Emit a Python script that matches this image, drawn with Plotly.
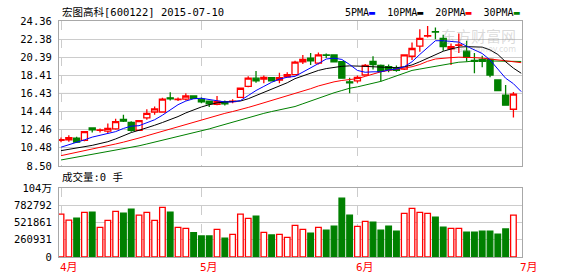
import plotly.graph_objects as go

title_text = "宏图高科[600122] 2015-07-10"
vol_title = "成交量:0 手"
ma_names = ["5PMA", "10PMA", "20PMA", "30PMA"]
ma_colors = ["#0000ff", "#000000", "#ff0000", "#008000"]

month_labels = ["4月", "5月", "6月", "7月"]
month_index = [0, 18, 38, 59]

price_ticks = [8.50, 10.48, 12.46, 14.44, 16.43, 18.41, 20.39, 22.38, 24.36]
vol_ticks = [0, 260931, 521861, 782792, 1043723]
vol_ticktext = ["0", "260931", "521861", "782792", "104万"]

open_ = [11.30, 11.35, 11.55, 11.30, 12.65, 12.40, 12.30, 12.55, 13.60, 13.25,
         12.40, 13.75, 14.40, 14.40, 15.95, 15.75, 15.80, 16.15, 15.80, 15.60,
         15.25, 15.50, 15.55, 16.00, 17.20, 18.10, 18.00, 18.15, 17.90, 18.25,
         18.50, 19.90, 20.30, 19.75, 20.65, 20.65, 19.90, 17.70, 17.80, 18.45,
         19.95, 19.50, 19.35, 19.20, 19.10, 20.50, 21.60, 22.70, 23.20, 22.45,
         21.30, 21.70, 21.05, 20.05, 20.15, 20.15, 17.90, 16.25, 14.70]
high = [11.60, 11.85, 11.70, 12.30, 12.70, 12.60, 13.15, 13.65, 14.10, 13.40,
        13.50, 14.70, 15.00, 15.95, 16.55, 16.00, 16.45, 16.20, 16.00, 15.65,
        16.15, 15.65, 15.80, 17.05, 18.30, 18.90, 18.40, 18.20, 18.70, 18.75,
        20.00, 20.65, 20.85, 20.90, 20.80, 20.70, 19.95, 18.15, 18.40, 19.65,
        20.50, 19.60, 19.60, 19.50, 20.70, 22.00, 23.45, 23.80, 23.65, 22.85,
        21.90, 23.00, 22.20, 20.85, 20.55, 20.20, 17.95, 17.35, 16.60]
low = [11.10, 11.15, 11.00, 11.20, 12.15, 12.15, 12.10, 12.45, 13.30, 12.25,
       12.35, 13.55, 14.10, 14.35, 15.65, 15.60, 15.65, 15.85, 15.35, 14.95,
       15.15, 15.10, 15.35, 15.95, 17.10, 17.60, 17.55, 17.75, 17.55, 18.20,
       18.45, 19.65, 19.55, 19.60, 20.30, 19.85, 18.05, 16.45, 17.60, 18.40,
       19.05, 17.75, 18.75, 18.80, 19.00, 20.10, 21.00, 22.55, 22.35, 21.10,
       19.55, 20.85, 19.90, 18.65, 19.30, 18.20, 16.70, 15.10, 13.80]
close = [11.38, 11.60, 11.10, 12.25, 12.45, 12.45, 12.60, 13.35, 13.40, 12.40,
         13.45, 14.25, 14.75, 15.80, 15.85, 15.80, 16.15, 15.90, 15.50, 15.30,
         15.55, 15.30, 15.60, 17.00, 18.10, 17.80, 18.20, 17.80, 18.15, 18.50,
         19.85, 20.15, 20.00, 20.65, 20.60, 19.90, 18.10, 17.60, 18.20, 19.50,
         19.60, 18.85, 19.00, 18.95, 20.65, 21.35, 22.45, 22.75, 23.15, 21.55,
         21.55, 21.75, 20.40, 19.95, 19.95, 18.45, 16.75, 15.15, 16.35]
volume = [650000, 560000, 590000, 676000, 681000, 449000, 555000, 691000, 666000, 726000,
          635000, 676000, 555000, 751000, 681000, 449000, 434000, 368000, 318000, 318000,
          419000, 287000, 343000, 650000, 585000, 620000, 373000, 333000, 343000, 298000,
          479000, 419000, 363000, 449000, 408000, 469000, 892000, 635000, 464000, 540000,
          529000, 408000, 469000, 393000, 661000, 736000, 676000, 661000, 605000, 454000,
          434000, 434000, 378000, 378000, 393000, 393000, 348000, 424000, 635000]

ma5 = [10.55, 10.80, 11.05, 11.35, 11.65, 11.85, 12.00, 12.25, 12.60, 12.85,
       12.90, 13.20, 13.55, 14.05, 14.65, 15.20, 15.60, 15.85, 15.90, 15.75,
       15.65, 15.50, 15.50, 15.65, 16.20, 16.75, 17.20, 17.65, 18.00, 18.20,
       18.30, 18.75, 19.20, 19.70, 20.20, 20.30, 20.15, 19.60, 18.95, 18.75,
       18.80, 18.80, 19.00, 19.10, 19.35, 19.90, 20.70, 21.50, 22.20, 22.20,
       22.15, 22.05, 21.60, 21.20, 20.80, 20.10, 19.10, 18.10, 17.50, 16.63]
ma10 = [10.17, 10.30, 10.45, 10.60, 10.75, 10.95, 11.15, 11.45, 11.80, 12.15,
        12.40, 12.65, 12.95, 13.25, 13.55, 13.90, 14.30, 14.65, 14.95, 15.20,
        15.40, 15.50, 15.55, 15.60, 15.85, 16.20, 16.55, 16.85, 17.20, 17.60,
        18.05, 18.35, 18.70, 18.95, 19.15, 19.30, 19.40, 19.45, 19.45, 19.40,
        19.35, 19.30, 19.25, 19.25, 19.35, 19.55, 19.90, 20.30, 20.70, 21.05,
        21.30, 21.50, 21.55, 21.55, 21.50, 21.20, 20.70, 19.90, 19.20, 18.64]
ma20 = [9.62, 9.80, 9.95, 10.10, 10.30, 10.50, 10.70, 10.90, 11.10, 11.30,
        11.55, 11.80, 12.05, 12.30, 12.55, 12.80, 13.05, 13.30, 13.50, 13.75,
        14.00, 14.25, 14.45, 14.65, 14.90, 15.15, 15.40, 15.65, 15.90, 16.15,
        16.45, 16.70, 16.95, 17.25, 17.50, 17.70, 17.85, 17.95, 18.05, 18.30,
        18.55, 18.80, 18.95, 19.10, 19.20, 19.35, 19.60, 19.95, 20.20, 20.30,
        20.35, 20.40, 20.40, 20.35, 20.30, 20.20, 20.10, 20.00, 19.90, 19.80]
ma30 = [9.15, 9.30, 9.45, 9.60, 9.75, 9.90, 10.05, 10.20, 10.35, 10.55,
        10.70, 10.90, 11.10, 11.30, 11.50, 11.70, 11.90, 12.10, 12.30, 12.55,
        12.80, 13.05, 13.30, 13.55, 13.80, 14.05, 14.25, 14.45, 14.65, 14.85,
        15.00, 15.30, 15.60, 15.95, 16.25, 16.50, 16.75, 17.00, 17.15, 17.35,
        17.55, 17.75, 18.05, 18.35, 18.65, 18.95, 19.10, 19.25, 19.45, 19.60,
        19.75, 19.85, 19.90, 20.00, 20.00, 20.00, 19.98, 19.96, 19.95, 19.93]

RED = "#ff0000"
GREEN = "#008000"
GRID = "#cccccc"
FRAME = "#a8a8a8"
MONO = "DejaVu Sans Mono, Noto Sans CJK SC, monospace"

n = len(close)
xs = list(range(n))
xs_ma = list(range(len(ma5)))

fig = go.Figure()

for vals, col in zip([ma30, ma20, ma10, ma5], ma_colors[::-1]):
    fig.add_trace(go.Scatter(x=xs_ma, y=vals, mode="lines",
                             line=dict(color=col, width=1), xaxis="x", yaxis="y",
                             hoverinfo="skip", showlegend=False))

fig.add_trace(go.Candlestick(
    x=xs, open=open_, high=high, low=low, close=close,
    increasing=dict(line=dict(color=RED, width=1.3), fillcolor="white"),
    decreasing=dict(line=dict(color=GREEN, width=1.3), fillcolor=GREEN),
    whiskerwidth=0, xaxis="x", yaxis="y", showlegend=False))

up = [c >= o for c, o in zip(close, open_)]
fig.add_trace(go.Bar(
    x=xs, y=volume, width=0.72, xaxis="x2", yaxis="y2",
    marker=dict(color=["white" if u else GREEN for u in up],
                line=dict(color=[RED if u else GREEN for u in up], width=1.3)),
    showlegend=False))

xr = [-0.26, 59.1]
common_x = dict(range=xr, tickvals=month_index, showticklabels=False, ticks="",
                showgrid=True, gridcolor=GRID, griddash="dash", gridwidth=1,
                showline=True, mirror=True, linecolor=FRAME, linewidth=1,
                zeroline=False, fixedrange=True)

mid = (price_ticks[0] + price_ticks[-1]) / 2

fig.update_layout(
    width=578, height=276,
    margin=dict(l=59, r=56, t=21, b=19),
    paper_bgcolor="white", plot_bgcolor="white",
    font=dict(family=MONO, size=10, color="#000000"),
    boxgap=0.22, boxgroupgap=0,
    bargap=0.2,
    xaxis=dict(anchor="y", rangeslider=dict(visible=False), **common_x),
    xaxis2=dict(anchor="y2", matches="x", **common_x),
    yaxis=dict(domain=[0.386, 1], range=[price_ticks[0], price_ticks[-1]],
               tickvals=price_ticks, ticktext=["%.2f" % v for v in price_ticks],
               showgrid=True, gridcolor=GRID, gridwidth=1, zeroline=False,
               showline=True, mirror=True, linecolor=FRAME, ticks="",
               ticklabelstandoff=4, tickfont=dict(family=MONO, size=10.5),
               fixedrange=True),
    yaxis2=dict(domain=[0, 0.292], range=[vol_ticks[0], vol_ticks[-1]],
                tickvals=vol_ticks, ticktext=vol_ticktext,
                showgrid=True, gridcolor=GRID, gridwidth=1, zeroline=False,
                showline=True, mirror=True, linecolor=FRAME, ticks="",
                ticklabelstandoff=4, tickfont=dict(family=MONO, size=10.5),
                fixedrange=True),
    shapes=[dict(type="line", xref="x domain", yref="y", x0=0, x1=1, y0=mid, y1=mid,
                 line=dict(color="#999999", width=1), layer="below")],
)

annotations = [
    dict(text=title_text, xref="paper", yref="paper", x=0.002, y=1.0, yshift=1,
         xanchor="left", yanchor="bottom", showarrow=False,
         font=dict(family=MONO, size=10.5, color="#000")),
    dict(text=vol_title, xref="paper", yref="paper", x=0.002, y=0.292, yshift=3,
         xanchor="left", yanchor="bottom", showarrow=False,
         font=dict(family=MONO, size=10.5, color="#000")),
    dict(text="东方财富网", xref="paper", yref="paper", x=1.0, y=0.99, xshift=-4,
         xanchor="right", yanchor="top", showarrow=False,
         font=dict(family="Noto Sans CJK SC", size=15, color="rgba(150,150,150,0.35)")),
    dict(text="eastmoney.com", xref="paper", yref="paper", x=1.0, y=0.905, xshift=-4,
         xanchor="right", yanchor="top", showarrow=False,
         font=dict(family="DejaVu Sans", size=8, color="rgba(150,150,150,0.35)")),
]
legend_html = "&nbsp;&nbsp;".join(
    "%s<span style='color:%s'>▬</span>" % (nm, c) for nm, c in zip(ma_names, ma_colors))
annotations.append(dict(text=legend_html, xref="paper", yref="paper", x=1.0, y=1.0,
                        yshift=1, xanchor="right", yanchor="bottom", showarrow=False,
                        font=dict(family=MONO, size=10, color="#000")))
for lbl, idx in zip(month_labels, month_index):
    annotations.append(dict(text=lbl, xref="x2", yref="paper", x=idx, y=0, xshift=-3,
                            yshift=-2, xanchor="left", yanchor="top", showarrow=False,
                            font=dict(family=MONO, size=11, color=RED)))
fig.update_layout(annotations=annotations)

fig.write_html("out.html")
